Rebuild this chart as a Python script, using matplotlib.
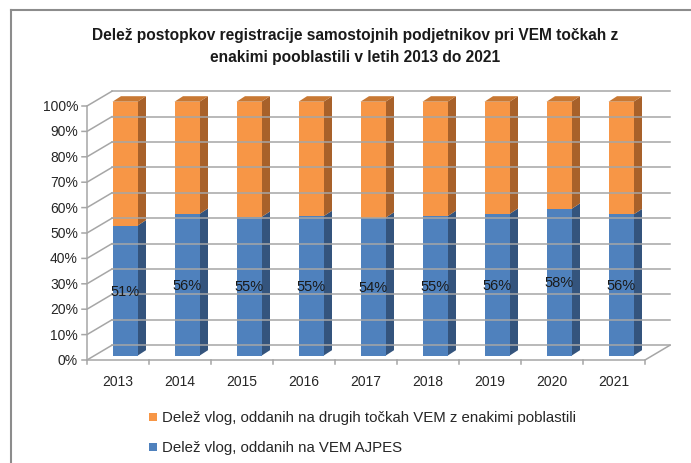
import matplotlib
matplotlib.use("Agg")
import matplotlib.pyplot as plt
from matplotlib.patches import Polygon, Rectangle
from matplotlib.lines import Line2D

plt.rcParams['font.family'] = ['Liberation Sans', 'DejaVu Sans']

years = ['2013', '2014', '2015', '2016', '2017', '2018', '2019', '2020', '2021']
ajpes = [51.2, 55.8, 54.6, 54.9, 54.3, 54.9, 55.8, 57.8, 55.6]   # Delež vlog, oddanih na VEM AJPES
other = [100 - v for v in ajpes]                                 # ostale VEM točke
series_names = ['Delež vlog, oddanih na drugih točkah VEM z enakimi poblastili',
                'Delež vlog, oddanih na VEM AJPES']
yticks = [0, 10, 20, 30, 40, 50, 60, 70, 80, 90, 100]
title = ('Delež postopkov registracije samostojnih podjetnikov pri VEM točkah z\n'
         'enakimi pooblastili v letih 2013 do 2021')

W, H = 691, 464
fig = plt.figure(figsize=(W / 100, H / 100), dpi=100, facecolor='white')

# plane of the bar fronts (pixels)
L, R, B, T = 94, 652, 356.7, 102.7
ax = fig.add_axes([L / W, 1 - B / H, (R - L) / W, (B - T) / H])
ax.set_xlim(-0.5, len(years) - 0.5)
ax.set_ylim(0, 100)
ax.axis('off')

pxx = (len(years)) / (R - L)   # data units per pixel
pxy = 100 / (B - T)

def off(dx, dy):
    return dx * pxx, -dy * pxy

grid_c = '#A6A6A6'
fdx, fdy = off(-7, 4.3)     # front of the floor
bdx, bdy = off(18, -10.5)   # back wall
x0, x1 = -0.5, len(years) - 0.5

# back wall and left wall gridlines
for v in yticks:
    ax.add_line(Line2D([x0 + bdx, x1 + bdx], [v + bdy, v + bdy], color=grid_c, lw=1.1, clip_on=False))
    ax.add_line(Line2D([x0 + fdx - 5 * pxx, x0 + fdx, x0 + bdx], [v + fdy, v + fdy, v + bdy],
                       color=grid_c, lw=1.1, clip_on=False))
    ax.text(x0 + fdx - 9 * pxx, v + fdy, f'{v}%', ha='right', va='center', fontsize=10, color='#262626')
# left front axis line
ax.add_line(Line2D([x0 + fdx, x0 + fdx], [0 + fdy, 100 + fdy], color=grid_c, lw=1.1, clip_on=False))
# floor front edge and right edge
ax.add_line(Line2D([x0 + fdx, x1 + fdx, x1 + bdx], [fdy, fdy, bdy], color=grid_c, lw=1.1, clip_on=False))
for i in range(len(years) + 1):
    xt = x0 + i + fdx
    ax.add_line(Line2D([xt, xt], [fdy, fdy - 4 * pxy], color=grid_c, lw=1.1, clip_on=False))
for i, yr in enumerate(years):
    ax.text(i + fdx, fdy - 21 * pxy, yr, ha='center', va='center', fontsize=10, color='#262626')

# bars
bw = 25 / 62
sdx, sdy = off(8.5, -5.5)
faces = [('#4F81BD', '#34547D', '#3F6797'), ('#F79646', '#A8612A', '#C87833')]
for i in range(len(years)):
    bottoms = [0, ajpes[i]]
    heights = [ajpes[i], other[i]]
    for k in range(2):
        front, side, top = faces[k]
        b, h = bottoms[k], heights[k]
        xl, xr = i - bw / 2, i + bw / 2
        ax.add_patch(Polygon([(xr, b), (xr + sdx, b + sdy), (xr + sdx, b + h + sdy), (xr, b + h)],
                             closed=True, fc=side, ec='none', clip_on=False))
        if k == 1:
            ax.add_patch(Polygon([(xl, b + h), (xl + sdx, b + h + sdy), (xr + sdx, b + h + sdy), (xr, b + h)],
                                 closed=True, fc=top, ec='none', clip_on=False))
    ax.bar(i, ajpes[i], bw, color=faces[0][0], clip_on=False)
    ax.bar(i, other[i], bw, bottom=ajpes[i], color=faces[1][0], clip_on=False)
    ax.text(i, ajpes[i] / 2, f'{ajpes[i]:.0f}%', ha='center', va='center', fontsize=10.5, color='#1a1a1a')

# outer frame (only left and top visible)
fig.add_artist(Line2D([11 / W, 11 / W], [0, 1 - 11 / H], color='#8C8C8C', lw=1.5))
fig.add_artist(Line2D([11 / W, 1], [1 - 11 / H, 1 - 11 / H], color='#8C8C8C', lw=1.5))

fig.text(355 / W, 1 - 46.5 / H, title, ha='center', va='center', fontsize=11.2, fontweight='bold',
         linespacing=1.6, color='#1a1a1a')

# legend
legend_y = [418, 448]
legend_c = [faces[1][0], faces[0][0]]
for name, yy, c in zip(series_names, legend_y, legend_c):
    fig.add_artist(Rectangle((149 / W, 1 - (yy + 4) / H), 8 / W, 8 / H, fc=c, ec='none'))
    fig.text(162 / W, 1 - yy / H, name, ha='left', va='center', fontsize=10.8, color='#262626')

fig.savefig('out.png', dpi=100, facecolor='white')
